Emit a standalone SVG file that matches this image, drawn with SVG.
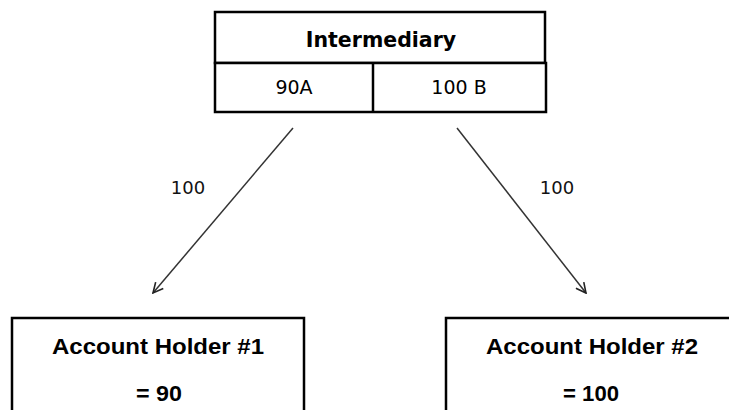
<svg xmlns="http://www.w3.org/2000/svg" width="729" height="410" viewBox="0 0 729 410">
<style>
.box{fill:#fff;stroke:#000;stroke-width:2.5}
.ttl{font-family:"DejaVu Sans",Verdana,sans-serif;font-weight:bold;font-size:20.5px;fill:#000}
.cell{font-family:"DejaVu Sans",Verdana,sans-serif;font-size:19px;fill:#000}
.lbl{font-family:"DejaVu Sans",Verdana,sans-serif;font-size:18px;fill:#111}
.acc{font-family:"Liberation Sans",Arial,sans-serif;font-weight:bold;font-size:22px;fill:#000}
.conn{stroke:#333;stroke-width:1.5;fill:none;marker-end:url(#arr)}
</style>
<defs>
<marker id="arr" viewBox="0 0 12 12" refX="11" refY="6" markerWidth="12" markerHeight="12" markerUnits="userSpaceOnUse" orient="auto">
<path d="M1,1 L11,6 L1,11" fill="none" stroke="#222" stroke-width="1.6"/>
</marker>
</defs>
<g id="intermediary">
<rect class="box" x="215" y="12" width="330" height="51"/>
<rect class="box" x="215" y="63" width="331" height="49"/>
<line x1="373" y1="63" x2="373" y2="112" stroke="#000" stroke-width="2.5"/>
<text class="ttl" x="381" y="47" text-anchor="middle">Intermediary</text>
<text class="cell" x="294" y="94" text-anchor="middle">90A</text>
<text class="cell" x="459" y="94" text-anchor="middle">100 B</text>
</g>
<g id="connectors">
<line class="conn" x1="293" y1="128" x2="153" y2="293"/>
<line class="conn" x1="457" y1="128" x2="586" y2="293"/>
<text class="lbl" x="188" y="194" text-anchor="middle">100</text>
<text class="lbl" x="557" y="194" text-anchor="middle">100</text>
</g>
<g id="account1">
<rect class="box" x="12" y="318" width="292" height="110"/>
<text class="acc" x="158" y="354" text-anchor="middle" textLength="212" lengthAdjust="spacingAndGlyphs">Account Holder #1</text>
<text class="acc" x="159" y="401" text-anchor="middle" textLength="46" lengthAdjust="spacingAndGlyphs">= 90</text>
</g>
<g id="account2">
<rect class="box" x="446" y="318" width="300" height="110"/>
<text class="acc" x="592" y="354" text-anchor="middle" textLength="212" lengthAdjust="spacingAndGlyphs">Account Holder #2</text>
<text class="acc" x="591" y="401" text-anchor="middle" textLength="56" lengthAdjust="spacingAndGlyphs">= 100</text>
</g>
</svg>
